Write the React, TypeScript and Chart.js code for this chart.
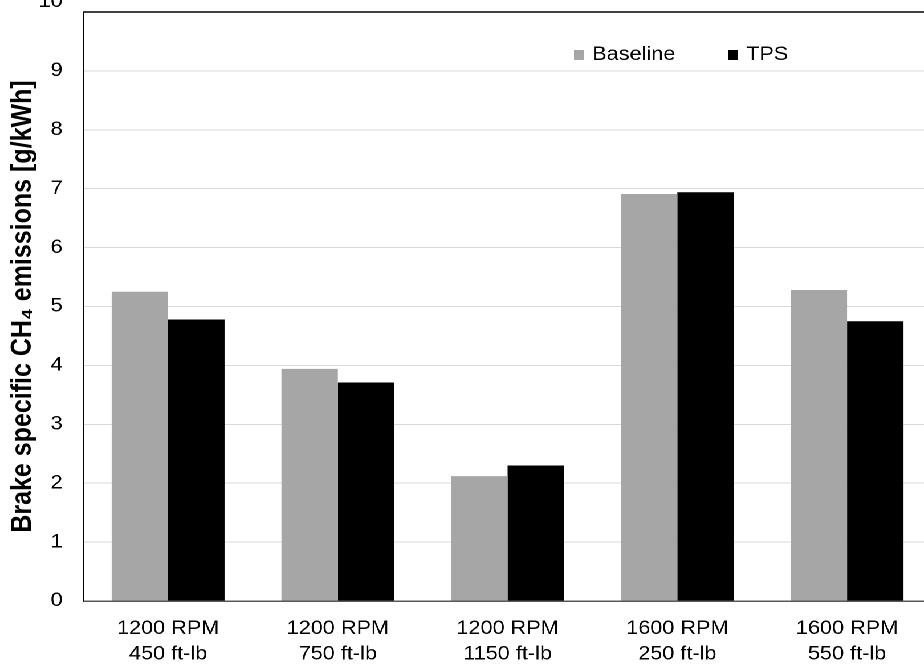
import React, { useEffect, useRef } from "react";
import { Chart, registerables } from "chart.js";

Chart.register(...registerables);

const categories: string[][] = [
  ["1200 RPM", "450 ft-lb"],
  ["1200 RPM", "750 ft-lb"],
  ["1200 RPM", "1150 ft-lb"],
  ["1600 RPM", "250 ft-lb"],
  ["1600 RPM", "550 ft-lb"],
];
const baselineValues = [5.25, 3.94, 2.12, 6.91, 5.28];
const tpsValues = [4.78, 3.71, 2.3, 6.94, 4.75];
const seriesNames = ["Baseline", "TPS"];
const yTitle = "Brake specific CH\u2084 emissions [g/kWh]";
const yMin = 0;
const yMax = 10;
const yStep = 1;

const FONT = "'Liberation Sans', Arial, sans-serif";
const STRETCH = 1.14; // reference is horizontally stretched
const LOGICAL_W = 842;
const TICK_PAD = 18;

const frameAndLegend = {
  id: "frameAndLegend",
  afterDraw(chart: any) {
    const { ctx, chartArea } = chart;
    ctx.save();
    // top frame line
    ctx.strokeStyle = "#000";
    ctx.lineWidth = 1.5;
    ctx.beginPath();
    ctx.moveTo(chartArea.left, chartArea.top);
    ctx.lineTo(chartArea.right, chartArea.top);
    ctx.stroke();
    // top tick label, drawn slightly raised as in the reference
    const yScale = chart.scales.y;
    ctx.font = `19px ${FONT}`;
    ctx.fillStyle = "#000";
    ctx.textAlign = "right";
    ctx.textBaseline = "middle";
    ctx.fillText(String(yMax), chartArea.left - TICK_PAD, yScale.getPixelForValue(yMax) - 10);
    // legend inside plot
    const items = chart.data.datasets.map((d: any) => ({ label: d.label, color: d.backgroundColor }));
    let x = 503.5;
    const y = chartArea.top + 43;
    items.forEach((it: any) => {
      ctx.fillStyle = it.color;
      ctx.fillRect(x, y - 5, 9, 10);
      ctx.fillStyle = "#000";
      ctx.textAlign = "left";
      ctx.fillText(it.label, x + 16, y);
      x += 135;
    });
    ctx.restore();
  },
};

export default function App() {
  const ref = useRef<HTMLCanvasElement | null>(null);
  useEffect(() => {
    if (!ref.current) return;
    const chart = new Chart(ref.current, {
      type: "bar",
      data: {
        labels: categories,
        datasets: [
          {
            label: seriesNames[0],
            data: baselineValues,
            backgroundColor: "#a6a6a6",
            categoryPercentage: 0.665,
            barPercentage: 1,
          },
          {
            label: seriesNames[1],
            data: tpsValues,
            backgroundColor: "#000000",
            categoryPercentage: 0.665,
            barPercentage: 1,
          },
        ],
      },
      options: {
        animation: false,
        responsive: true,
        maintainAspectRatio: false,
        devicePixelRatio: 2,
        layout: { padding: { top: 32, right: 24.5, left: 0, bottom: 0 } },
        plugins: {
          legend: { display: false },
          tooltip: { enabled: false },
        },
        scales: {
          x: {
            grid: { display: false, drawTicks: false },
            border: { color: "#595959", width: 1.5 },
            ticks: {
              color: "#000",
              font: { family: FONT, size: 19, lineHeight: 1.35 },
              padding: 15,
              maxRotation: 0,
              autoSkip: false,
            },
            afterFit: (s: any) => {
              s.height = 63;
            },
          },
          y: {
            min: yMin,
            max: yMax,
            grid: { color: "#d9d9d9", lineWidth: 1, drawTicks: false },
            border: { color: "#000", width: 1.5 },
            ticks: {
              stepSize: yStep,
              color: "#000",
              font: { family: FONT, size: 19 },
              padding: TICK_PAD,
              callback: (v: any) => (v === yMax ? "" : String(v)),
            },
            title: {
              display: true,
              text: yTitle,
              color: "#000",
              font: { family: FONT, size: 25, weight: "bold" },
              padding: { top: 5, bottom: 0 },
            },
            afterFit: (s: any) => {
              s.width = 73;
            },
          },
        },
      },
      plugins: [frameAndLegend],
    });
    return () => chart.destroy();
  }, []);
  return (
    <div
      style={{
        position: "fixed",
        left: 0,
        top: -20,
        width: LOGICAL_W,
        height: 684,
        background: "#fff",
        transform: `scaleX(${STRETCH})`,
        transformOrigin: "0 0",
      }}
    >
      <canvas ref={ref} />
    </div>
  );
}
